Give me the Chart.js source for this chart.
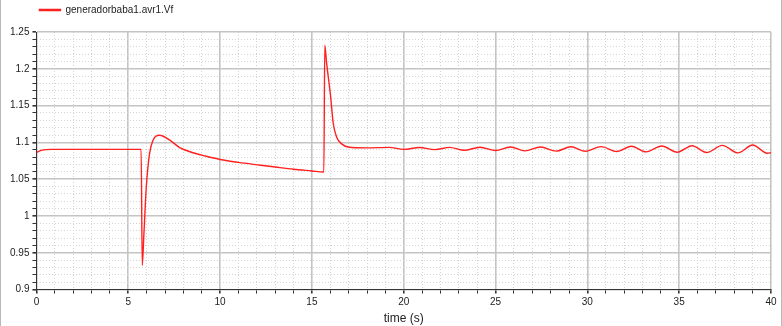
<!DOCTYPE html>
<html>
<head>
<meta charset="utf-8">
<script src="https://cdn.jsdelivr.net/npm/chart.js@4"></script>
<style>
  html, body { margin: 0; padding: 0; background: #fff; }
  #wrap { position: relative; width: 782px; height: 326px; box-sizing: border-box;
          border-left: 1px solid #b8b8b8; border-right: 1px solid #b8b8b8; }
  canvas { display: block; }
</style>
</head>
<body>
<div id="wrap"><canvas id="vfChart" width="780" height="326"></canvas></div>
<script>
// generadorbaba1.avr1.Vf vs time
const seriesLabel = "generadorbaba1.avr1.Vf";
const timeS = [0, 0.3, 0.8, 5.7, 5.76, 5.85, 5.98, 6.16, 6.35, 6.7, 7.2, 7.8, 8.4, 9.2, 10, 11, 12.2, 13, 14, 15, 15.65,
  15.7, 15.8, 16.02, 16.16, 16.35, 16.62, 16.98, 18, 19.2, 20.0, 20.85, 21.7, 22.5, 23.3, 24.15, 25.0, 25.8, 26.6,
  27.45, 28.3, 29.1, 29.9, 30.75, 31.6, 32.4, 33.2, 34.05, 34.9, 35.7, 36.5, 37.35, 38.2, 39.0, 39.8, 40];
const vf = [1.0865, 1.0895, 1.0905, 1.0905, 0.933, 0.975, 1.039, 1.085, 1.103, 1.1097, 1.104, 1.093, 1.087, 1.0815,
  1.0768, 1.0728, 1.069, 1.0665, 1.0635, 1.0612, 1.0597,
  1.232, 1.208, 1.162, 1.126, 1.107, 1.098, 1.0937, 1.0925, 1.0932, 1.0905, 1.0930, 1.0902, 1.0933, 1.0893, 1.0935,
  1.0889, 1.0937, 1.0885, 1.0938, 1.0881, 1.0940, 1.0879, 1.0943, 1.0876, 1.0947, 1.0871, 1.0951, 1.0867, 1.0955,
  1.0862, 1.0959, 1.0857, 1.0964, 1.0853, 1.0860];

const xMin = 0, xMax = 40, xStep = 1, xMajor = 5;
const yMin = 0.9, yMax = 1.25, yStep = 0.01, yMajor = 5; // major every 0.05

const font = "'Liberation Sans', Arial, sans-serif";

function isMajorX(v){ return Math.round(v) % xMajor === 0; }
function isMajorY(v){ return Math.round(v * 100) % yMajor === 0; }

const points = timeS.map((t, i) => ({ x: t, y: vf[i] }));

// a bit of extra room between the legend and the plot
const legendGap = {
  id: 'legendGap',
  beforeInit(chart){
    const lg = chart.legend;
    if(!lg) return;
    const fit = lg.fit;
    lg.fit = function(){ fit.call(this); this.height += 7; };
  }
};

const ctx = document.getElementById("vfChart").getContext("2d");
new Chart(ctx, {
  type: 'line',
  data: { datasets: [{
    label: seriesLabel, data: points,
    borderColor: '#ff2020', backgroundColor: '#ff6a6a',
    borderWidth: 1.4, pointRadius: 0, cubicInterpolationMode: 'monotone'
  }]},
  plugins: [legendGap],
  options: {
    responsive: false, animation: false,
    layout: { padding: { left: 6, right: 10, top: 2, bottom: 0 } },
    plugins: {
      tooltip: { enabled: false },
      legend: {
        align: 'start', fullSize: false,
        labels: { boxWidth: 21, boxHeight: 1, padding: 3, color: '#222',
                  font: { family: "'Liberation Sans Narrow', " + font, size: 10 } }
      }
    },
    scales: {
      x: {
        type: 'linear', min: xMin, max: xMax,
        ticks: { stepSize: xStep, autoSkip: false, maxRotation: 0, padding: 3, color: '#222',
                 font: { family: font, size: 10 },
                 callback: v => isMajorX(v) ? String(v) : '' },
        grid: {
          color: c => c.tick && isMajorX(c.tick.value) ? '#c4c4c4' : '#d4d4d4',
          lineWidth: c => c.tick && isMajorX(c.tick.value) ? 1.6 : 1,
          tickLength: 4, tickColor: '#333'
        },
        border: { color: '#333', width: 1,
                  dash: c => (c.tick && !isMajorX(c.tick.value)) ? [1, 2] : [] },
        title: { display: true, text: 'time (s)', color: '#222', padding: { top: 0, bottom: 0 },
                 font: { family: font, size: 12, lineHeight: 1.2 } }
      },
      y: {
        min: yMin, max: yMax,
        ticks: { stepSize: yStep, autoSkip: false, padding: 3, color: '#222',
                 font: { family: font, size: 10 },
                 callback: v => isMajorY(v) ? String(+v.toFixed(2)) : '' },
        grid: {
          color: c => c.tick && isMajorY(c.tick.value) ? '#c4c4c4' : '#d4d4d4',
          lineWidth: c => c.tick && isMajorY(c.tick.value) ? 1.6 : 1,
          tickLength: 4, tickColor: '#333'
        },
        border: { color: '#333', width: 1,
                  dash: c => (c.tick && !isMajorY(c.tick.value)) ? [1, 2] : [] }
      }
    }
  }
});
</script>
</body>
</html>
